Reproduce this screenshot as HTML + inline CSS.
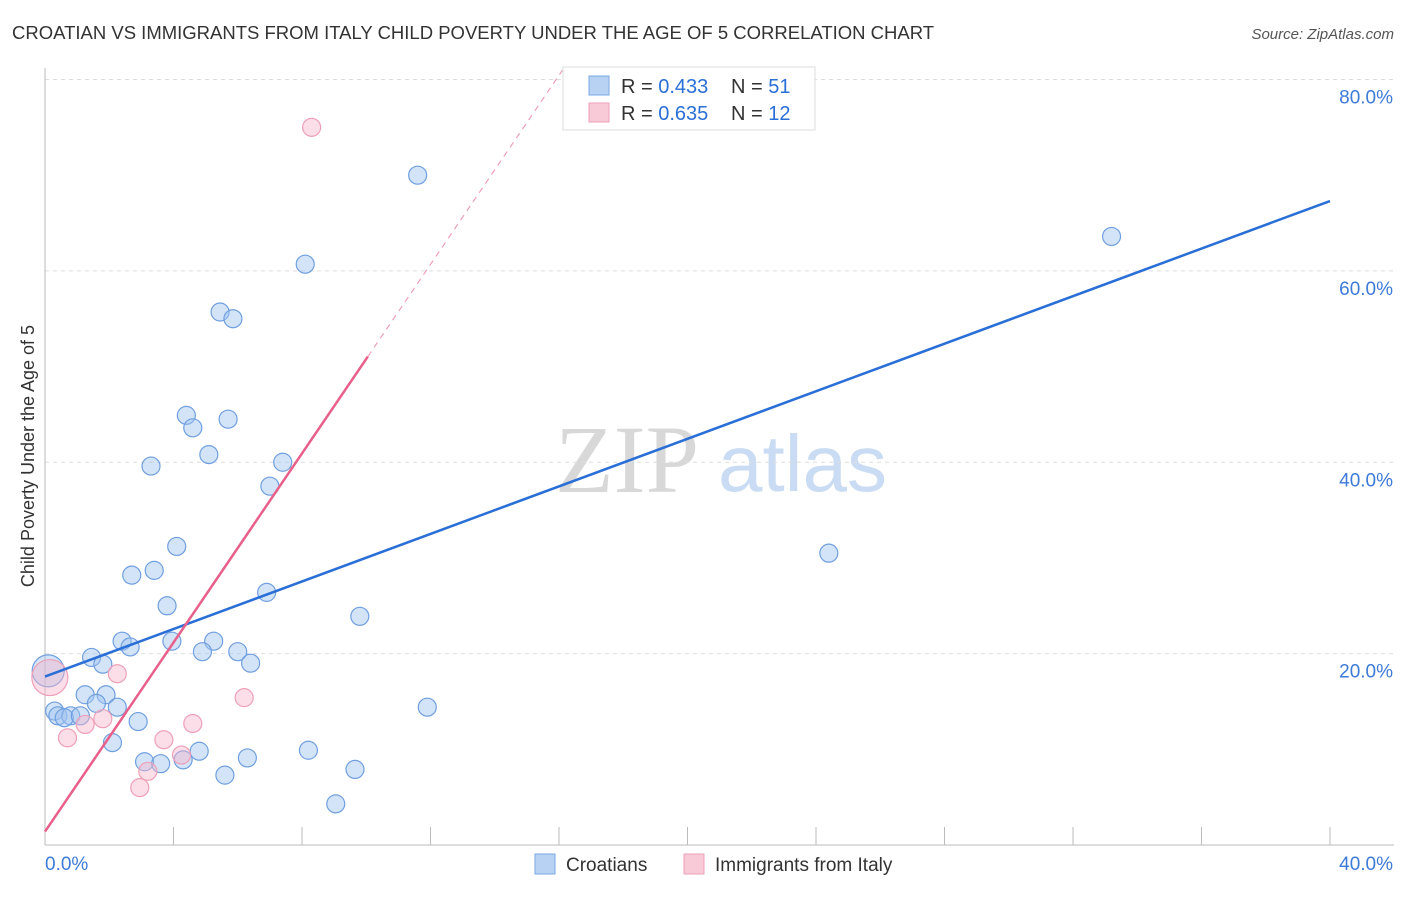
<!DOCTYPE html>
<html><head><meta charset="utf-8"><style>
body{margin:0;background:#fff;font-family:"Liberation Sans",sans-serif;}
svg text{font-family:"Liberation Sans",sans-serif;}
</style></head><body>
<svg id="chart" width="1406" height="892" viewBox="0 0 1406 892" xmlns="http://www.w3.org/2000/svg">
<text x="12" y="39" font-size="18.5" fill="#333">CROATIAN VS IMMIGRANTS FROM ITALY CHILD POVERTY UNDER THE AGE OF 5 CORRELATION CHART</text>
<text x="1394" y="39" font-size="15" fill="#555" text-anchor="end" font-style="italic">Source: ZipAtlas.com</text>
<text x="555" y="492" font-size="96" fill="#d8d8d8" font-family="Liberation Serif" style="font-family:'Liberation Serif',serif">ZIP</text>
<text x="718" y="491" font-size="80" fill="#c9dcf3">atlas</text>
<text transform="translate(34,456) rotate(-90)" font-size="18" fill="#333" text-anchor="middle">Child Poverty Under the Age of 5</text>
<g id="grid"></g><g id="axes"></g><g id="marks"></g>
<g>
<rect x="563" y="67" width="252" height="63" fill="#fff" stroke="#ddd"/>
<rect x="589" y="76" width="20" height="19" fill="#b8d2f4" stroke="#7aa8e4"/>
<text x="621" y="93" font-size="20" fill="#333">R = <tspan fill="#2a6fd6">0.433</tspan></text>
<text x="731" y="93" font-size="20" fill="#333">N = <tspan fill="#2a6fd6">51</tspan></text>
<rect x="589" y="103" width="20" height="19" fill="#f8c9d6" stroke="#eea0b8"/>
<text x="621" y="120" font-size="20" fill="#333">R = <tspan fill="#2a6fd6">0.635</tspan></text>
<text x="731" y="120" font-size="20" fill="#333">N = <tspan fill="#2a6fd6">12</tspan></text>
</g>
<g>
<rect x="535" y="854" width="20" height="20" fill="#b8d2f4" stroke="#7aa8e4"/>
<text x="566" y="871" font-size="19" fill="#333">Croatians</text>
<rect x="684" y="854" width="20" height="20" fill="#f8c9d6" stroke="#eea0b8"/>
<text x="715" y="871" font-size="19" fill="#333">Immigrants from Italy</text>
</g>
</svg>
<script>
const xTicks=[0,4,8,12,16,20,24,28,32,36,40];
const yTicks=[20,40,60,80];
const blueX=[11.6,33.2,8.1,5.45,5.85,4.4,4.6,5.7,3.3,5.1,7.4,7.0,4.1,3.4,2.7,24.4,3.8,6.9,9.8,2.4,2.65,3.95,5.25,4.9,6.0,6.4,1.45,1.8,0.1,1.25,1.9,1.6,2.25,11.9,0.3,0.4,0.8,0.6,1.1,2.9,2.1,3.1,3.6,4.3,4.8,6.3,8.2,5.6,9.65,9.05];
const blueY=[70.0,63.6,60.7,55.7,55.0,44.9,43.6,44.5,39.6,40.8,40.0,37.5,31.2,28.7,28.2,30.5,25.0,26.4,23.9,21.3,20.7,21.3,21.3,20.2,20.2,19.0,19.6,18.9,18.2,15.7,15.7,14.8,14.4,14.4,14.0,13.5,13.5,13.3,13.5,12.9,10.7,8.7,8.5,8.9,9.8,9.1,9.9,7.3,7.9,4.3];
const pinkX=[8.3,0.15,2.25,6.2,4.6,1.8,1.25,0.7,3.7,4.25,3.2,2.95];
const pinkY=[75.0,17.5,17.9,15.4,12.7,13.2,12.6,11.2,11.0,9.4,7.7,6.0];
const blueSize=[9,9,9,9,9,9,9,9,9,9,9,9,9,9,9,9,9,9,9,9,9,9,9,9,9,9,9,9,16,9,9,9,9,9,9,9,9,9,9,9,9,9,9,9,9,9,9,9,9,9];
const pinkSize=[9,18,9,9,9,9,9,9,9,9,9,9];
const blueTrend=[17.6,67.3];
const pinkTrend=[1.4,4.94];
const X0=45,X1=1330,YB=845,YT=79.5;
const sx=v=>X0+(X1-X0)*v/40;
const sy=v=>YB-(YB-YT)*v/80;
const NS="http://www.w3.org/2000/svg";
function mk(tag,parent,attrs){const e=document.createElementNS(NS,tag);for(const k in attrs)e.setAttribute(k,attrs[k]);document.getElementById(parent).appendChild(e);return e;}
yTicks.forEach(t=>{
 const l=mk('line','grid',{x1:45,x2:1394,y1:sy(t),y2:sy(t),stroke:'#ddd','stroke-dasharray':'4,4'});
 
 
 const tx=mk('text','axes',{x:1393,y:sy(t)+24,'font-size':19,fill:'#3d7bd8','text-anchor':'end'});
 tx.textContent=t.toFixed(1)+'%';
 
 
});
const ax=mk('line','axes',{x1:45,x2:45,y1:68,y2:845,stroke:'#bbb'});


const bx=mk('line','axes',{x1:45,x2:1394,y1:845,y2:845,stroke:'#bbb'});


xTicks.forEach(t=>{
 const l=mk('line','axes',{x1:sx(t),x2:sx(t),y1:827,y2:845,stroke:'#bbb'});
 
 
});
[[0,'start',45],[40,'end',1393]].forEach(([t,a,x])=>{
 const tx=mk('text','axes',{x:x,y:870,'font-size':19,fill:'#3d7bd8','text-anchor':a});
 tx.textContent=t.toFixed(1)+'%';
 
 
});
blueX.forEach((v,i)=>{
 const c=mk('circle','marks',{cx:sx(v),cy:sy(blueY[i]),r:blueSize[i],fill:'rgba(160,196,240,0.45)',stroke:'#6f9fe0','stroke-width':1.2});
 
 
});
pinkX.forEach((v,i)=>{
 const c=mk('circle','marks',{cx:sx(v),cy:sy(pinkY[i]),r:pinkSize[i],fill:'rgba(246,182,202,0.45)',stroke:'#eea0b8','stroke-width':1.2});
 
 
});
const bl=mk('line','marks',{x1:sx(0),y1:sy(blueTrend[0]),x2:sx(40),y2:sy(blueTrend[1]),stroke:'#2a6fd6','stroke-width':2.5});


const pe=10.05,pm=(81-pinkTrend[0])/pinkTrend[1];
const pl=mk('line','marks',{x1:sx(0),y1:sy(pinkTrend[0]),x2:sx(pe),y2:sy(pinkTrend[0]+pinkTrend[1]*pe),stroke:'#e8608a','stroke-width':2.5});


const pd=mk('line','marks',{x1:sx(pe),y1:sy(pinkTrend[0]+pinkTrend[1]*pe),x2:sx(pm),y2:sy(81),stroke:'#eea0b8','stroke-width':1.2,'stroke-dasharray':'6,5'});


</script>
</body></html>
